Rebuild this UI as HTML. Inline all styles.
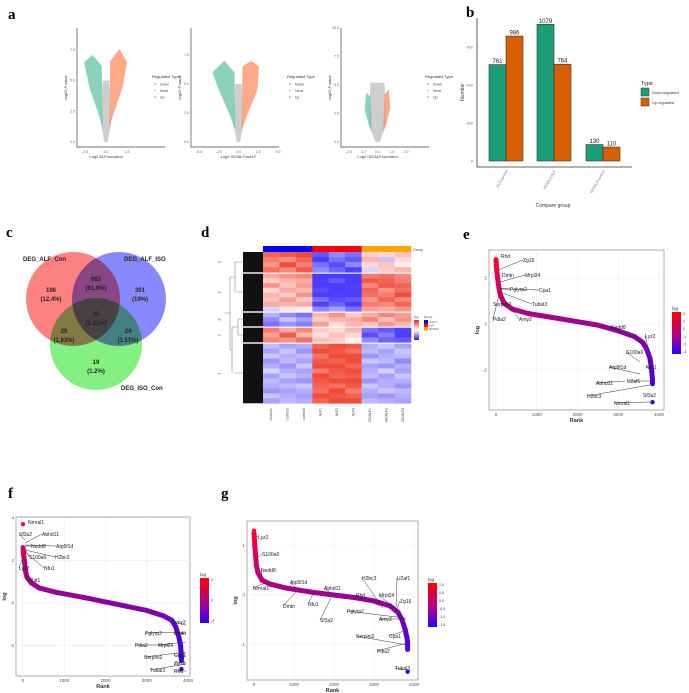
<!DOCTYPE html>
<html><head><meta charset="utf-8"><style>
html,body{margin:0;padding:0;background:#fff;}
svg{display:block;font-family:"Liberation Sans",sans-serif;}
.pl{font-family:"Liberation Serif",serif;font-weight:bold;font-size:15px;}
</style></head><body>
<svg id="fig" width="689" height="693" viewBox="0 0 689 693" xmlns="http://www.w3.org/2000/svg">
<text class="pl" x="8" y="19">a</text>
<text class="pl" x="466" y="17">b</text>
<text class="pl" x="6" y="237">c</text>
<text class="pl" x="201" y="237">d</text>
<text class="pl" x="463" y="239">e</text>
<text class="pl" x="8" y="498">f</text>
<text class="pl" x="221" y="498">g</text>
</svg>
<script>
var NS="http://www.w3.org/2000/svg";
var svg=document.getElementById('fig');
function mk(tag,at,parent){var e=document.createElementNS(NS,tag);for(var k in at)e.setAttribute(k,at[k]);(parent||svg).appendChild(e);return e;}
function tx(s,at,parent){var e=mk('text',at,parent);e.textContent=s;return e;}

/* ===== Panel b data ===== */
var bCats=["ALF/control","ISOALF/ALF","ISOALF/control"];
var bDown=[761,1079,130];
var bUp=[986,764,110];
var bTicks=[0,300,600,900];

/* ===== Panel c data ===== */
var vennCounts=["196","983","301","29","35","24","19"];
var vennPct=["(12.4%)","(61.9%)","(19%)","(1.83%)","(2.21%)","(1.51%)","(1.2%)"];
var vennSets=["DEG_ALF_Con","DEG_ALF_ISO","DEG_ISO_Con"];

/* ===== Panel d data ===== */
var hmCols=["control1","control2","control3","ALF1","ALF2","ALF3","ISOALF1","ISOALF2","ISOALF3"];
var hmGroups=["control","control","control","ALF","ALF","ALF","ISOALF","ISOALF","ISOALF"];
var hmClusters=["5","4","3","2","1"];
var hmC5=[[1.2,1.3,1.5,-1.2,-0.8,-1.0,0.3,0.2,0.4],[1.0,0.8,1.2,-1.5,-1.0,-1.2,0.5,-0.3,0.2],[0.8,1.4,1.0,-1.0,-1.3,-0.8,0.2,0.4,0.0],[1.1,0.9,1.3,-0.8,-1.1,-1.4,-0.2,0.3,0.5]];
var hmC4=[[0.6,0.8,0.9,-1.8,-1.5,-1.6,1.0,1.1,0.9],[0.3,0.5,0.6,-1.5,-1.2,-1.8,1.3,1.2,1.0],[0.8,0.4,0.7,-1.9,-1.6,-1.4,0.9,1.3,1.2],[0.2,0.6,0.5,-1.3,-1.7,-1.5,1.2,0.8,1.1],[0.5,0.3,0.8,-1.6,-1.4,-1.9,1.1,1.0,1.4],[0.4,0.7,0.3,-1.0,-1.3,-1.2,0.8,1.2,0.9],[0.6,0.5,0.6,-1.4,-1.1,-1.6,1.0,0.9,1.2],[-0.2,0.1,0.0,-0.8,-0.6,-1.0,0.7,0.6,0.8]];
var hmC3=[[-0.5,-0.8,-1.0,0.5,0.8,0.3,0.6,0.9,0.7],[-0.8,-0.3,-0.6,0.3,0.5,0.6,0.9,0.4,0.8],[-1.0,-0.7,-0.9,0.7,0.2,0.5,0.4,0.8,0.5]];
var hmC2=[[1.0,0.6,0.9,0.3,0.2,0.5,-1.0,-1.2,-1.4],[0.7,1.3,0.5,0.1,0.4,0.2,-1.3,-0.9,-1.5],[0.9,0.8,1.1,0.4,0.3,0.0,-0.8,-1.1,-1.2]];
var hmC1=[[-0.4,-0.6,-0.5,1.2,1.4,1.3,-0.5,-0.3,-0.6],[-0.6,-0.3,-0.7,1.5,1.3,1.1,-0.4,-0.6,-0.3],[-0.3,-0.5,-0.4,1.1,1.6,1.4,-0.7,-0.5,-0.4],[-0.7,-0.4,-0.6,1.3,1.2,1.5,-0.3,-0.4,-0.8],[-0.5,-0.7,-0.3,1.4,1.5,1.2,-0.6,-0.7,-0.5],[-0.2,-0.5,-0.6,1.0,1.3,1.4,-0.5,-0.2,-0.6],[-0.6,-0.3,-0.5,1.6,1.2,1.3,-0.4,-0.6,-0.3],[-0.4,-0.6,-0.7,1.3,1.4,1.7,-0.7,-0.5,-0.5],[-0.5,-0.4,-0.3,1.2,1.1,1.3,-0.3,-0.5,-0.7],[-0.7,-0.6,-0.5,1.1,1.7,1.0,-0.5,-0.3,-0.4],[-0.3,-0.5,-0.6,1.4,1.3,1.2,-0.6,-0.7,-0.5],[-0.6,-0.4,-0.5,1.2,1.5,1.4,-0.4,-0.5,-0.6]];

/* ===== Panel a data (volcano region outlines, data units) ===== */
var v1DownX=[-0.4,-1.0,-2.0,-2.6,-1.6,-0.5], v1DownY=[1.2,2.5,4.5,6.5,7.1,6.2];
var v1UpX=[0.4,1.0,2.0,2.5,1.6,0.5], v1UpY=[1.2,2.5,4.5,6.5,7.6,6.6];
var v1NoneX=[-0.6,-0.2,0.2,0.6,0.4,-0.4], v1NoneY=[1.5,0.0,0.0,1.5,5.0,5.0];
var v2DownX=[-0.4,-1.2,-2.5,-3.3,-1.8,-0.5], v2DownY=[1.0,2.5,4.5,6.0,7.0,6.0];
var v2UpX=[0.4,1.2,2.4,2.6,1.6,0.5], v2UpY=[1.0,2.5,4.5,6.5,7.0,6.5];
var v2NoneX=[-0.6,-0.2,0.2,0.6,0.4,-0.4], v2NoneY=[1.5,0.0,0.0,1.5,5.0,5.0];
var v3DownX=[-0.4,-0.6,-0.9,-0.8,-0.5], v3DownY=[0.9,1.5,2.8,4.3,4.0];
var v3UpX=[0.4,0.6,0.9,0.8,0.5], v3UpY=[0.9,1.5,3.0,4.6,4.2];
var v3NoneX=[-0.6,-0.15,0.15,0.6,0.5,-0.5], v3NoneY=[1.5,0.0,0.0,1.5,5.2,5.2];

/* ===== Panels e,f,g rank curves ===== */
var eRank=[0,20,40,60,100,200,400,800,1500,2000,2500,3000,3400,3600,3700,3780,3820,3840,3840];
var eLog=[2.8,2.3,2.0,1.7,1.3,0.9,0.65,0.45,0.25,0.1,-0.05,-0.3,-0.55,-0.8,-1.1,-1.5,-2.0,-2.4,-2.6];
var eOutRank=[0,3840], eOutLog=[2.8,-3.4];
var fRank=[0,20,40,60,100,200,400,800,1500,2000,2500,3000,3400,3600,3700,3780,3820,3840,3840];
var fLog=[2.6,2.2,1.9,1.5,1.2,0.95,0.7,0.5,0.25,0.05,-0.15,-0.35,-0.6,-0.8,-1.1,-1.6,-2.0,-2.5,-2.7];
var fOutRank=[0,3840], fOutLog=[3.7,-3.1];
var gRank=[0,20,40,60,100,200,400,800,1500,2000,2500,3000,3400,3600,3700,3780,3820,3840,3840];
var gLog=[1.25,1.0,0.8,0.6,0.45,0.3,0.22,0.14,0.05,0.0,-0.05,-0.12,-0.22,-0.35,-0.5,-0.7,-0.85,-0.95,-1.1];
var gOutRank=[0,3840], gOutLog=[1.3,-1.55];

/* ================= Panel a ================= */
function volcano(id,x0,x1,y0,y1,xd0,xd1,yd0,yd1,xt,yt,xlab,dn,dy,upx,upy,nx,ny,legX){
  var g=mk('g',{});
  
  
  function X(v){return x0+(v-xd0)/(xd1-xd0)*(x1-x0);}
  function Y(v){return y0-(v-yd0)/(yd1-yd0)*(y0-y1);}
  var ax=mk('path',{d:'M'+(x0-8)+' 28 V147 H'+(x0+80),stroke:'#444','stroke-width':0.7,fill:'none'},g);
  
  
  xt.forEach(function(t){var e=tx(t.toFixed(1),{x:X(t),y:153,'font-size':3.5,'text-anchor':'middle',fill:'#666'},g);
    
    });
  yt.forEach(function(t){var e=tx(t.toFixed(1),{x:x0-10,y:Y(t)+1,'font-size':3.5,'text-anchor':'end',fill:'#666'},g);
    
    });
  function poly(xs,ys,col,name){var p=xs.map(function(v,i){return X(v)+','+Y(ys[i]);}).join(' ');
    var e=mk('polygon',{points:p,fill:col,opacity:0.75},g);
    
    }
  poly(nx,ny,'#bdbdbd','none-points');
  poly(dn,dy,'#66c2a5','down-points');
  poly(upx,upy,'#fc8d62','up-points');
  var xl=tx(xlab,{x:(x0+x1)/2,y:158,'font-size':4,'text-anchor':'middle',fill:'#333'},g);
  
  
  var yl=tx('-log10 P value',{x:0,y:0,'font-size':4,'text-anchor':'middle',fill:'#333',transform:'translate('+(x0-18)+',88) rotate(-90)'},g);
  
  
  var lt=tx('Regulated Type',{x:legX,y:78,'font-size':4,fill:'#333'},g);
  
  
  [['Down','#66c2a5'],['None','#bdbdbd'],['Up','#fc8d62']].forEach(function(d,i){
    var c=mk('circle',{cx:legX+3,cy:84+i*6.5,r:0.9,fill:d[1]},g);
    
    
    var t=tx(d[0],{x:legX+8,y:85.5+i*6.5,'font-size':3.5,fill:'#444'},g);
    
    });
}
volcano('alf-vs-control',85,127,142,50,-2.5,2.5,0,7.5,[-2.5,0,2.5],[0,2.5,5,7.5],'Log2 ALFvscontrol',v1DownX,v1DownY,v1UpX,v1UpY,v1NoneX,v1NoneY,152);
volcano('isoalf-vs-alf',199,278,142,84,-5,5,0,5,[-5,-2.5,0,2.5,5],[0,2.5,5,7.5],'Log2 ISOALFvsALF',v2DownX,v2DownY,v2UpX,v2UpY,v2NoneX,v2NoneY,287);
volcano('isoalf-vs-control',349,406,142,28,-2,2,0,10,[-2,-1,0,1,2],[0,2.5,5,7.5,10],'Log2 ISOALFvscontrol',v3DownX,v3DownY,v3UpX,v3UpY,v3NoneX,v3NoneY,425);

/* ================= Panel b ================= */
(function(){
  var g=mk('g',{});
  
  
  function Y(v){return 161-v*(38/300);}
  var ax=mk('path',{d:'M477 18 V167 H632',stroke:'#333','stroke-width':0.8,fill:'none'},g);
  
  
  bTicks.forEach(function(t){var e=tx(String(t),{x:473,y:Y(t)+1.5,'font-size':4,'text-anchor':'end',fill:'#777'},g);
    
    });
  var gx=[489,537,586];
  bCats.forEach(function(c,i){
    var b1=mk('rect',{x:gx[i],y:Y(bDown[i]),width:17,height:Y(0)-Y(bDown[i]),fill:'#1b9e77',stroke:'#333','stroke-width':0.6},g);
    
    
    var b2=mk('rect',{x:gx[i]+17,y:Y(bUp[i]),width:17,height:Y(0)-Y(bUp[i]),fill:'#d95f02',stroke:'#333','stroke-width':0.6},g);
    
    
    var l1=tx(String(bDown[i]),{x:gx[i]+8.5,y:Y(bDown[i])-1.5,'font-size':6,'text-anchor':'middle',fill:'#222'},g);
    
    
    var l2=tx(String(bUp[i]),{x:gx[i]+25.5,y:Y(bUp[i])-1.5,'font-size':6,'text-anchor':'middle',fill:'#222'},g);
    
    
    var xl=tx(c,{x:0,y:0,'font-size':3.8,'text-anchor':'end',fill:'#777',transform:'translate('+(gx[i]+19)+',171) rotate(-60)'},g);
    
    
  });
  var xt=tx('Compare group',{x:553,y:207,'font-size':5,'text-anchor':'middle',fill:'#333'},g);
  
  
  var yt=tx('Number',{x:0,y:0,'font-size':5,'text-anchor':'middle',fill:'#333',transform:'translate(464,92) rotate(-90)'},g);
  
  
  var lt=tx('Type',{x:641,y:85,'font-size':5.5,fill:'#222'},g);
  
  
  [['Down-regulated','#1b9e77'],['Up-regulated','#d95f02']].forEach(function(d,i){
    var r=mk('rect',{x:641,y:88+i*10,width:8,height:8,fill:d[1],stroke:'#333','stroke-width':0.5},g);
    
    
    var t=tx(d[0],{x:652,y:94+i*10,'font-size':3.8,fill:'#333'},g);
    
    });
})();

/* ================= Panel c ================= */
(function(){
  var g=mk('g',{});
  
  
  var circ=[[73,299,47,'#ff6666'],[119,299,47,'#6f6fff'],[96,344,46,'#66ee66']];
  circ.forEach(function(c,i){var e=mk('circle',{cx:c[0],cy:c[1],r:c[2],fill:c[3],'fill-opacity':0.82,style:'mix-blend-mode:multiply'},g);
    
    });
  var pos=[[51,292],[96,281],[140,292],[64,333],[96,316],[128,333],[96,364]];
  vennCounts.forEach(function(v,i){
    var t=tx(v,{x:pos[i][0],y:pos[i][1],'font-size':6,'font-weight':'bold','text-anchor':'middle',fill:'#222'},g);
    
    
    var p=tx(vennPct[i],{x:pos[i][0],y:pos[i][1]+9,'font-size':6,'font-weight':'bold','text-anchor':'middle',fill:'#222'},g);
    
    });
  var lp=[[23,261,'start'],[124,261,'start'],[121,390,'start']];
  vennSets.forEach(function(s,i){var t=tx(s,{x:lp[i][0],y:lp[i][1],'font-size':6,'font-weight':'bold',fill:'#222'},g);
    
    });
})();

/* ================= Panel d ================= */
(function(){
  var g=mk('g',{});
  
  
  var hx0=263,cw=(411-263)/9;
  function col(v){var t=Math.max(-2,Math.min(2,v))/2;
    if(t>=0){t=Math.min(1,t*1.4);return 'rgb('+Math.round(255-15*t)+','+Math.round(240-165*t)+','+Math.round(240-185*t)+')';}
    t=Math.min(1,-t*1.4);return 'rgb('+Math.round(235-160*t)+','+Math.round(235-175*t)+',255)';}
  var gcol={control:'#0000ff',ALF:'#ff0000',ISOALF:'#ffa500'};
  hmGroups.forEach(function(gr,j){var r=mk('rect',{x:hx0+j*cw,y:246,width:cw+0.3,height:6,fill:gcol[gr]},g);
    
    });
  var gl=tx('Group',{x:413,y:251,'font-size':3.5,fill:'#444'},g);
  
  
  var spans=[[252,273],[273,312],[312,327],[327,343],[343,404]];
  var mats=[hmC5,hmC4,hmC3,hmC2,hmC1];
  mats.forEach(function(m,ci){
    var y0=spans[ci][0]+(ci?0.7:0),y1=spans[ci][1]-0.7,rh=(y1-y0)/m.length;
    m.forEach(function(row,ri){row.forEach(function(v,j){
      var c=mk('rect',{x:hx0+j*cw,y:y0+ri*rh,width:cw+0.3,height:rh+0.3,fill:col(v)},g);
      
      });});
    var d=mk('rect',{x:243,y:y0,width:20,height:y1-y0,fill:'#111'},g);
    
    
    var cl=tx(hmClusters[ci],{x:0,y:0,'font-size':3.5,fill:'#444','text-anchor':'middle',transform:'translate(218,'+((y0+y1)/2)+') rotate(90)'},g);
    
    
  });
  var tree=mk('path',{d:'M243 262 H235 M243 292 H236 M235 262 V292 M235 277 H230 M243 319 H238 M243 335 H238 M238 319 V335 M238 327 H232 M243 373 H235 M232 327 V373 M230 277 V350 M230 313 H224 M232 350 H230',stroke:'#888','stroke-width':0.6,fill:'none'},g);
  
  
  hmCols.forEach(function(c,j){var t=tx(c,{x:0,y:0,'font-size':3.5,fill:'#444','text-anchor':'end',transform:'translate('+(hx0+j*cw+cw/2+1)+',408) rotate(-90)'},g);
    
    });
  var sc=mk('defs',{},g);
  var lg=mk('linearGradient',{id:'hmg',x1:0,y1:0,x2:0,y2:1},sc);
  mk('stop',{offset:'0','stop-color':'#ff2020'},lg);mk('stop',{offset:'0.5','stop-color':'#ffffff'},lg);mk('stop',{offset:'1','stop-color':'#2020ff'},lg);
  var lr=mk('rect',{x:414,y:320,width:5,height:20,fill:'url(#hmg)'},g);
  
  
  var lt=tx('Exp',{x:414,y:318,'font-size':3,fill:'#444'},g);
  
  
  var gt=tx('Group',{x:424,y:318,'font-size':3,fill:'#444'},g);
  
  
  ['control','ALF','ISOALF'].forEach(function(k,i){
    var r=mk('rect',{x:424,y:320+i*3.5,width:4,height:3.5,fill:gcol[k]},g);
    
    
    var t=tx(k,{x:429,y:323+i*3.5,'font-size':2.8,fill:'#444'},g);
    
    });
})();

/* ================= Panels e,f,g ================= */
function rankPlot(id,box,xr,yr,ticksY,rank,lg,outR,outL,vmin,vmax,labels,leg,legTicks){
  var g=mk('g',{});
  
  
  function X(v){return xr[0]+v/4000*(xr[1]-xr[0]);}
  function Y(v){return yr[0]+(v-yr[2])*yr[1];}
  function col(v){var t=(v-vmin)/(vmax-vmin);t=Math.max(0,Math.min(1,t));
    return 'rgb('+Math.round(40+215*t)+',0,'+Math.round(255-200*t)+')';}
  var bg=mk('rect',{x:box[0],y:box[1],width:box[2]-box[0],height:box[3]-box[1],fill:'#fff',stroke:'#999','stroke-width':0.8},g);
  
  
  [0,1000,2000,3000,4000].forEach(function(t){
    var l=mk('line',{x1:X(t),x2:X(t),y1:box[1],y2:box[3],stroke:'#ececec','stroke-width':0.6},g);
    
    
    var e=tx(String(t),{x:X(t),y:box[3]+6,'font-size':4.5,'text-anchor':'middle',fill:'#555'},g);
    
    });
  ticksY.forEach(function(t){
    var l=mk('line',{x1:box[0],x2:box[2],y1:Y(t),y2:Y(t),stroke:'#ececec','stroke-width':0.6},g);
    
    
    var e=tx(String(t),{x:box[0]-2,y:Y(t)+1.5,'font-size':4.5,'text-anchor':'end',fill:'#555'},g);
    
    });
  for(var i=0;i<rank.length-1;i++){
    var s=mk('line',{x1:X(rank[i]),y1:Y(lg[i]),x2:X(rank[i+1]),y2:Y(lg[i+1]),stroke:col((lg[i]+lg[i+1])/2),'stroke-width':5,'stroke-linecap':'round'},g);
    
    }
  outR.forEach(function(r,i){var c=mk('circle',{cx:X(r),cy:Y(outL[i]),r:2.2,fill:col(outL[i])},g);
    
    });
  labels.forEach(function(L){
    var ln=mk('line',{x1:L[1],y1:L[2],x2:L[3],y2:L[4],stroke:'#333','stroke-width':0.5},g);
    
    
    var t=tx(L[0],{x:L[1],y:L[2]+2,'font-size':5,fill:'#222','text-anchor':L[5]||'start'},g);
    
    });
  var xt=tx('Rank',{x:(box[0]+box[2])/2,y:box[3]+12,'font-size':5.5,'font-weight':'bold','text-anchor':'middle',fill:'#333'},g);
  
  
  var yt=tx('log',{x:0,y:0,'font-size':5.5,'font-weight':'bold','text-anchor':'middle',fill:'#333',transform:'translate('+(box[0]-10)+','+((box[1]+box[3])/2)+') rotate(-90)'},g);
  
  
  var gid='lg'+id, d=mk('defs',{},g);
  var gr=mk('linearGradient',{id:gid,x1:0,y1:0,x2:0,y2:1},d);
  mk('stop',{offset:'0','stop-color':'#ff0000'},gr);mk('stop',{offset:'0.55','stop-color':'#b0008a'},gr);mk('stop',{offset:'1','stop-color':'#2a00ff'},gr);
  var lt=tx('log',{x:leg[0],y:leg[1]-2,'font-size':4.5,fill:'#333'},g);
  
  
  var cb=mk('rect',{x:leg[0],y:leg[1],width:9,height:leg[2],fill:'url(#'+gid+')'},g);
  
  
  legTicks.forEach(function(t,i){var e=tx(t,{x:leg[0]+11,y:leg[1]+3+i*(leg[2]-4)/(legTicks.length-1),'font-size':3.6,fill:'#333'},g);
    
    });
}
rankPlot('e',[489,250,664,410],[496,659],[324,-23,0],[-2,0,2],eRank,eLog,eOutRank,eOutLog,-3.4,2.8,
 [['Rhd',501,256,500,256],['Zg16',523,260,498,270],['Dmtn',502,275,502,275],['Mrpl24',525,275,500,282],['Pglyrp2',510,289,500,288],['Cpa1',539,290,500,289],['Tubal3',532,304,500,292],['Serpini2',493,304,493,304],['Pdia2',493,319,499,295],['Amy2',519,319,502,296],['Nedd8',611,327,640,340],['Lyz2',645,336,650,355],['S100a6',626,352,640,362],['Atp5f1d',609,367,640,374],['Nfu1',646,367,650,368],['Abhd11',596,383,625,381],['U2af1',627,381,650,381],['H2bc3',587,396,650,385],['Sf3a2',643,395,643,395],['Nmral1',614,403,650,402]],
 [672,312,42],['2','1','0','-1','-2','-3']);
rankPlot('f',[16,517,190,676],[23,188],[603,-21.3,0],[-2,0,2,4],fRank,fLog,fOutRank,fOutLog,-3.1,3.7,
 [['Nmral1',28,522,28,522],['Sf3a2',19,534,25,540],['Abhd11',42,534,25,543],['Nedd8',31,546,25,546],['Atp5f1d',56,546,25,545],['S100a6',29,557,25,549],['H2bc3',55,557,25,550],['Nfu1',44,568,25,552],['Lyz2',19,568,24,555],['U2af1',27,580,25,558],['Amy2',173,622,186,625],['Pglyrp2',145,633,186,632],['Dmtn',174,633,186,634],['Pdia2',135,645,170,645],['Mrpl24',158,645,186,642],['Serpini2',144,657,186,652],['Cpa1',174,655,186,656],['Zg16',174,663,186,663],['Tubal3',150,670,186,664],['Rhd',174,671,186,671]],
 [200,578,45],['2','0','-2']);
rankPlot('g',[247,521,418,680],[254,414],[595,-49.5,0],[-1,0,1],gRank,gLog,gOutRank,gOutLog,-1.55,1.3,
 [['Lyz2',258,537,256,536],['S100a6',262,554,255,560],['Nedd8',261,570,262,575],['Nmral1',253,588,265,583],['Atp5f1d',290,582,296,588],['Dmtn',283,606,296,592],['Abhd11',324,588,331,593],['Nfu1',308,604,314,592],['Sf3a2',320,620,331,598],['H2bc3',362,578,383,608],['U2af1',397,578,396,607],['Rhd',356,595,380,606],['Mrpl24',379,595,394,608],['Zg16',400,601,395,613],['Pglyrp2',347,611,405,618],['Amy2',379,619,406,619],['Serpini2',356,636,407,645],['Cpa1',389,636,404,631],['Pdia2',377,651,407,643],['Tubal3',395,668,407,670]],
 [428,583,44],['1.0','0.5','0.0','-0.5','-1.0','-1.5']);
</script>
</body></html>
